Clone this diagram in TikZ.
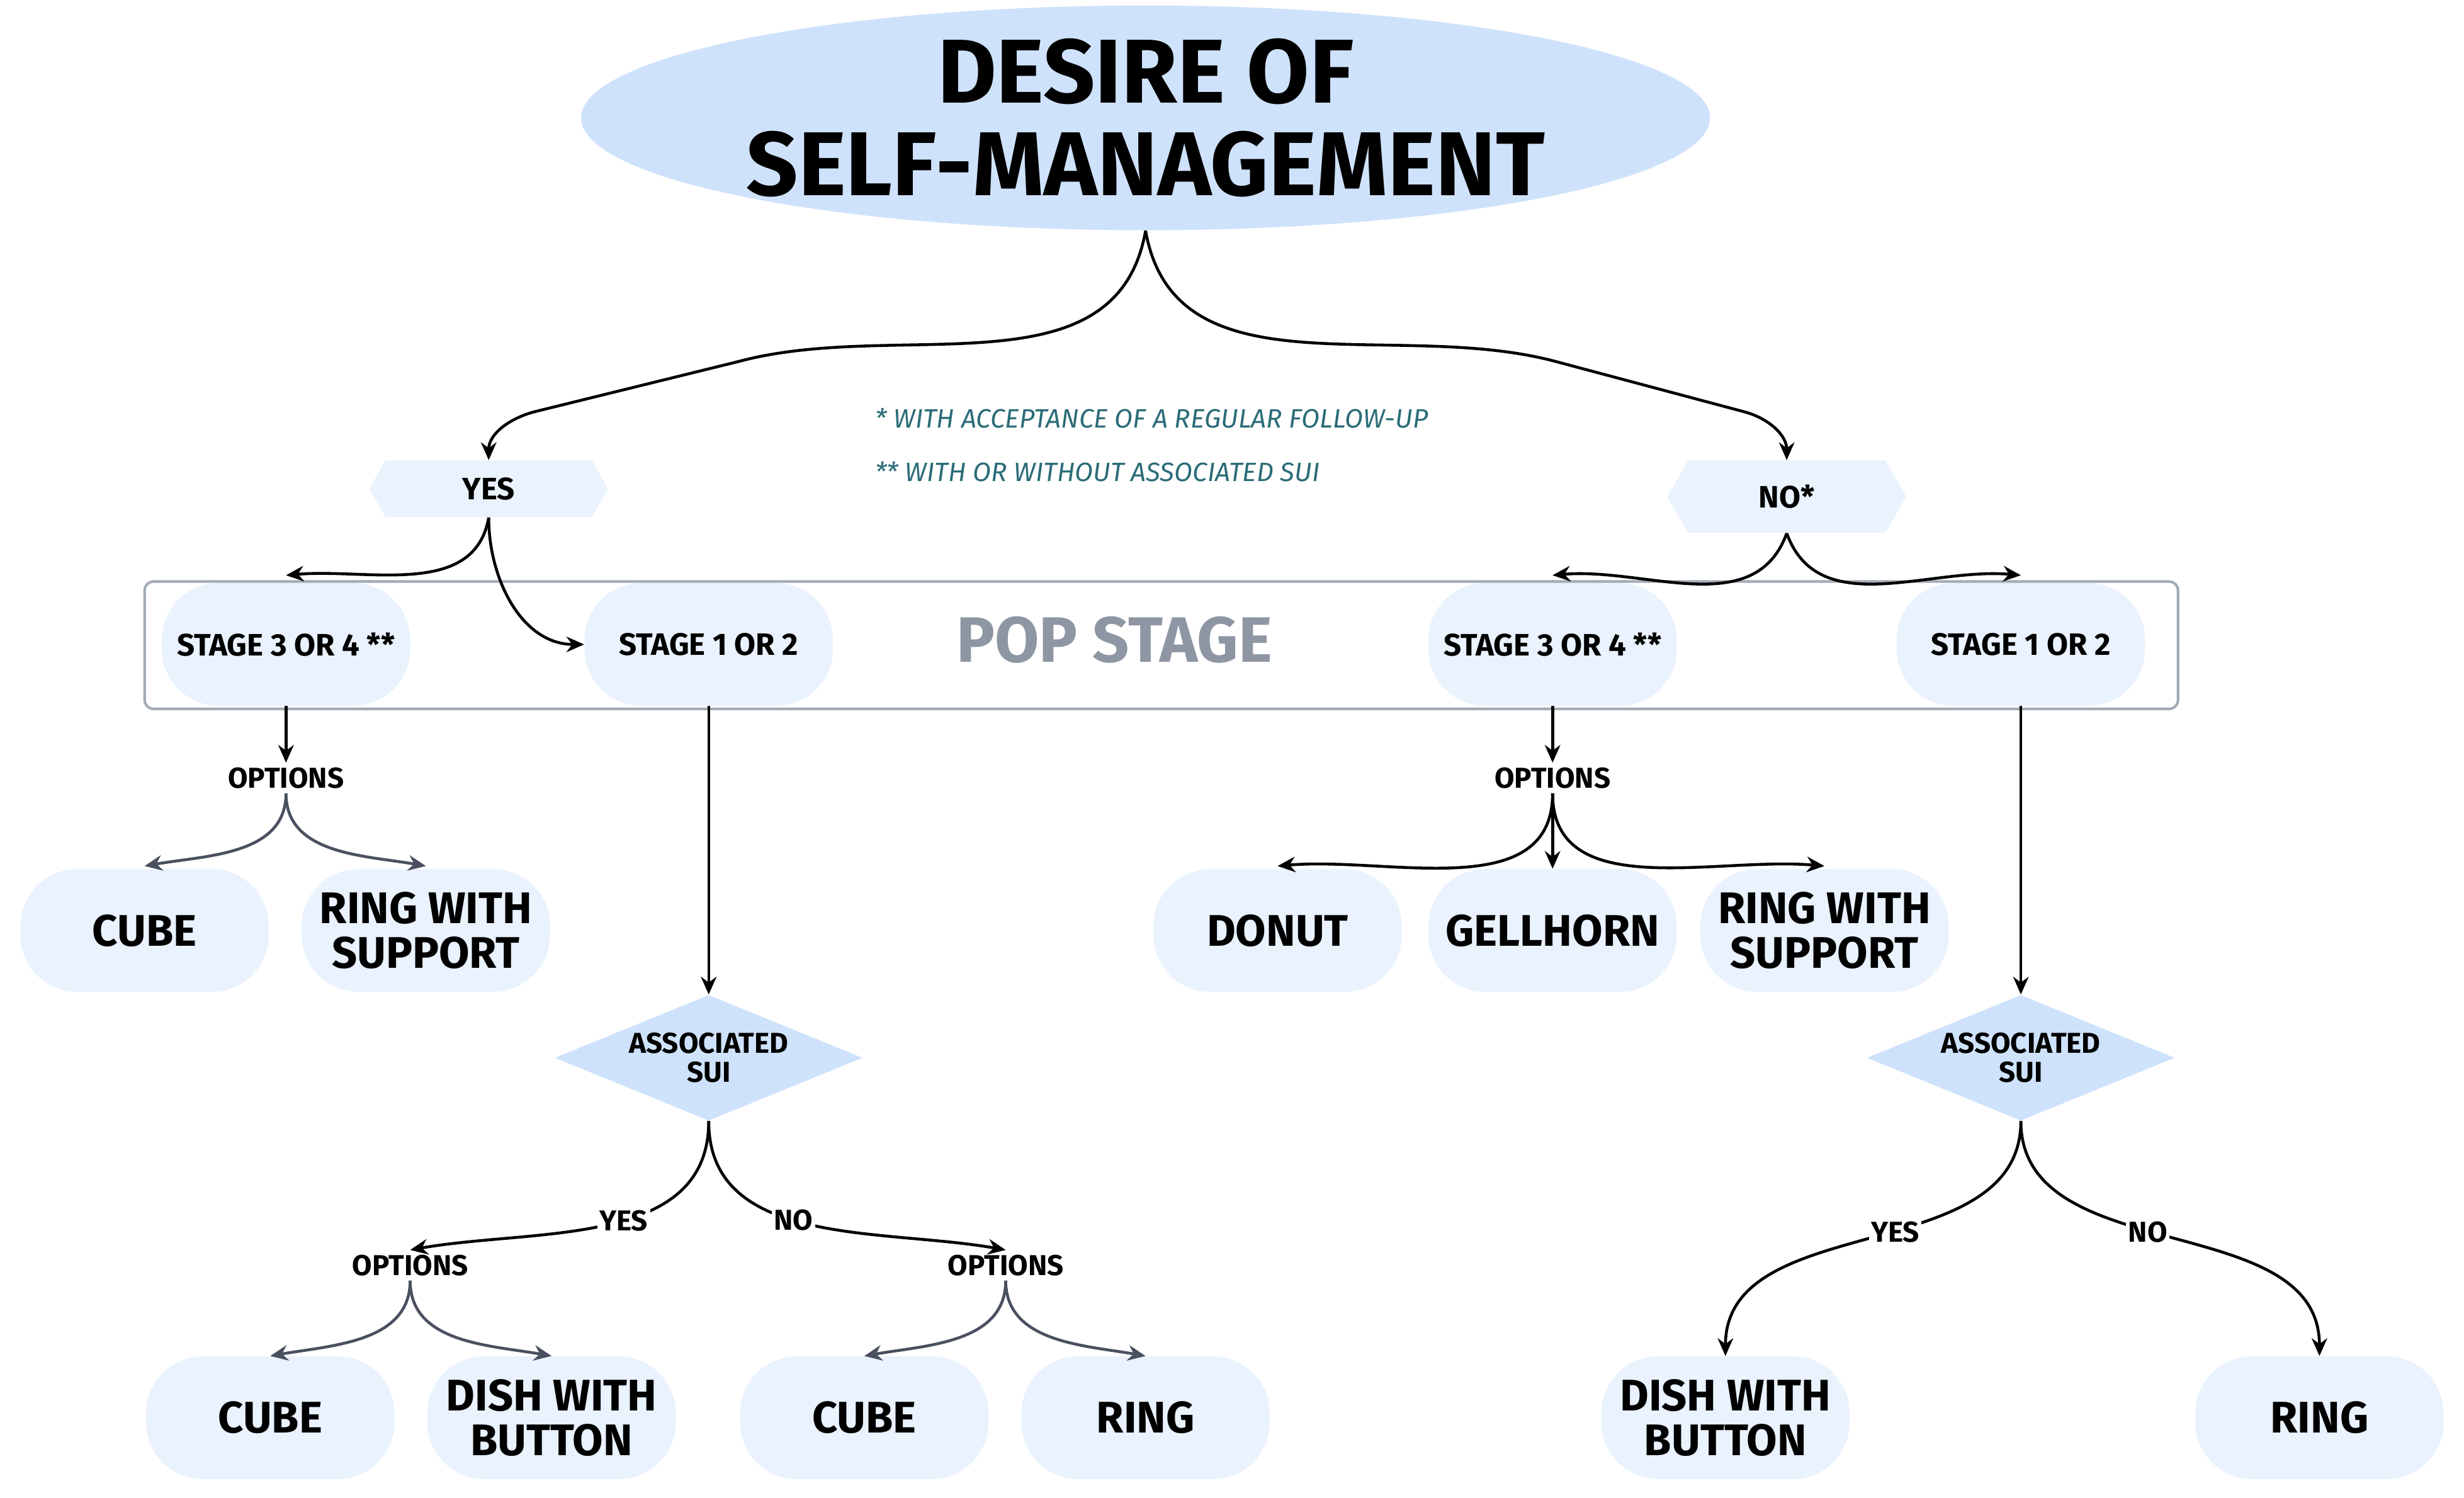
\documentclass[tikz,border=0pt]{standalone}
\usepackage{fontspec}
\setmainfont{Fira Sans}
\usetikzlibrary{shapes.geometric,shapes.symbols,arrows.meta}
\definecolor{titlefill}{HTML}{CFE2FB}
\definecolor{lightfill}{HTML}{E9F2FD}
\definecolor{diafill}{HTML}{CFE2FB}
\definecolor{noteteal}{HTML}{2B6C78}
\definecolor{popgray}{HTML}{8E96A3}
\definecolor{optarrow}{HTML}{4A5060}
\tikzset{
  box/.style={rounded corners=0.9cm, fill=lightfill, draw=none, minimum width=158*0.02496cm, minimum height=78*0.02496cm, align=center, font=\fontsize{20}{20}\selectfont\bfseries, inner sep=0pt},
  stage/.style={box, font=\fontsize{14}{14}\selectfont\bfseries},
  hex/.style={signal, signal to=west and east, signal pointer angle=120, fill=lightfill, minimum width=152*0.02496cm, font=\fontsize{14}{14}\selectfont\bfseries},
  dia/.style={diamond, aspect=2.45, fill=diafill, inner sep=0pt, minimum width=196*0.02496cm, minimum height=80*0.02496cm, align=center, font=\fontsize{13}{13}\selectfont\bfseries},
  opt/.style={font=\fontsize{13}{13}\selectfont\bfseries, inner sep=2pt},
  note/.style={font=\fontsize{12}{12}\selectfont\itshape, text=noteteal, anchor=west},
  arr/.style={-{Stealth[length=8pt,width=7pt]}, line width=1.3pt, black},
  oarr/.style={-{Stealth[length=8pt,width=7pt]}, line width=1.3pt, optarrow},
  lbl/.style={fill=white, inner sep=1pt, font=\fontsize{13}{13}\selectfont\bfseries}
}
\begin{document}
\begin{tikzpicture}[x=0.02496cm, y=-0.02496cm]
\useasboundingbox (0,0) rectangle (1568,953);
\fill[white] (0,0) rectangle (1568,953);
% title
\node[ellipse, fill=titlefill, minimum width=636*0.02496cm, minimum height=124*0.02496cm, align=center, font=\fontsize{41}{42}\selectfont\bfseries, inner sep=0pt] (title) at (729,75) {DESIRE OF\\SELF-MANAGEMENT};
% notes
\node[note] (n1) at (552,266) {* WITH ACCEPTANCE OF A REGULAR FOLLOW-UP};
\node[note] (n2) at (552,300) {** WITH OR WITHOUT ASSOCIATED SUI};
% hexagons
\node[hex, minimum height=36*0.02496cm] (yes) at (311,311) {YES};
\node[hex, minimum height=46*0.02496cm] (no) at (1137,316) {NO*};
% pop stage box
\draw[popgray!80, line width=1.2pt, rounded corners=4pt] (92,370) rectangle (1386,451);
\node[font=\fontsize{29}{29}\selectfont\bfseries, text=popgray] (pop) at (709,407) {POP STAGE};
\node[stage] (s1) at (182,410) {STAGE 3 OR 4 **};
\node[stage] (s2) at (451,410) {STAGE 1 OR 2};
\node[stage] (s3) at (988,410) {STAGE 3 OR 4 **};
\node[stage] (s4) at (1286,410) {STAGE 1 OR 2};
% options
\node[opt] (o1) at (182,495) {OPTIONS};
\node[opt] (o2) at (988,495) {OPTIONS};
\node[opt] (o3) at (261,805) {OPTIONS};
\node[opt] (o4) at (640,805) {OPTIONS};
% leaves
\node[box] (l1) at (92,592) {CUBE};
\node[box] (l2) at (271,592) {RING WITH\\SUPPORT};
\node[box] (l3) at (813,592) {DONUT};
\node[box] (l4) at (988,592) {GELLHORN};
\node[box] (l5) at (1161,592) {RING WITH\\SUPPORT};
\node[box] (l6) at (172,902) {CUBE};
\node[box] (l7) at (351,902) {DISH WITH\\BUTTON};
\node[box] (l8) at (550,902) {CUBE};
\node[box] (l9) at (729,902) {RING};
\node[box] (l10) at (1098,902) {DISH WITH\\BUTTON};
\node[box] (l11) at (1476,902) {RING};
% diamonds
\node[dia] (d1) at (451,673) {ASSOCIATED\\SUI};
\node[dia] (d2) at (1286,673) {ASSOCIATED\\SUI};
% connectors
\draw[arr] (title.south) to[out=-100, in=15] (470,230) -- (340,262) to[out=-165, in=90] (yes.north);
\draw[arr] (title.south) to[out=-80, in=165] (990,230) -- (1110,262) to[out=-15, in=90] (no.north);
\draw[arr] (yes.south) to[out=-100, in=5] (182,366);
\draw[arr] (yes.south) to[out=-90, in=180] (s2.west);
\draw[arr] (no.south) to[out=-110, in=5] (988,366);
\draw[arr] (no.south) to[out=-70, in=175] (1286,366);
\draw[arr] (s1.south) -- (o1.north);
\draw[arr] (s3.south) -- (o2.north);
\draw[oarr] (o1.south) to[out=-90, in=10] (92,551);
\draw[oarr] (o1.south) to[out=-90, in=170] (271,551);
\draw[arr] (o2.south) to[out=-90, in=5] (813,551);
\draw[arr] (o2.south) -- (l4.north);
\draw[arr] (o2.south) to[out=-90, in=175] (1161,551);
\draw[arr] (s2.south) -- (d1.north);
\draw[arr] (s4.south) -- (d2.north);
\draw[arr] (d1.south) to[out=-90, in=10] node[lbl, pos=0.45] {YES} (o3.north);
\draw[arr] (d1.south) to[out=-90, in=170] node[lbl, pos=0.45] {NO} (o4.north);
\draw[oarr] (o3.south) to[out=-90, in=10] (l6.north);
\draw[oarr] (o3.south) to[out=-90, in=170] (l7.north);
\draw[oarr] (o4.south) to[out=-90, in=10] (l8.north);
\draw[oarr] (o4.south) to[out=-90, in=170] (l9.north);
\draw[arr] (d2.south) to[out=-90, in=90] node[lbl, pos=0.45] {YES} (l10.north);
\draw[arr] (d2.south) to[out=-90, in=90] node[lbl, pos=0.45] {NO} (l11.north);
\end{tikzpicture}
\end{document}
